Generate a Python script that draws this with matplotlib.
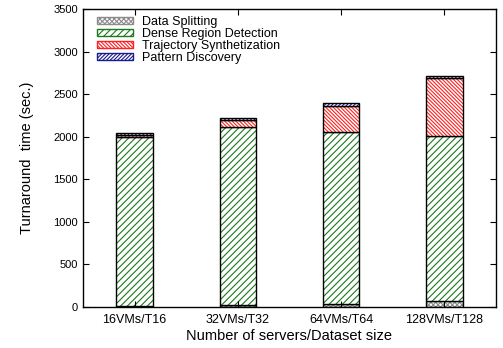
import numpy as np
import matplotlib
matplotlib.use("Agg")
from matplotlib import pyplot as plt
from matplotlib.patches import Patch

plt.rcParams['font.family'] = ['Liberation Sans', 'DejaVu Sans']
plt.rcParams['hatch.linewidth'] = 0.8

configs = ['16VMs/T16', '32VMs/T32', '64VMs/T64', '128VMs/T128']
splitting = [10, 25, 40, 75]
dense = [1985, 2085, 2010, 1930]
trajectory = [25, 85, 310, 690]
pattern = [25, 30, 40, 20]

stages = ['Data Splitting', 'Dense Region Detection',
          'Trajectory Synthetization', 'Pattern Discovery']
series = [splitting, dense, trajectory, pattern]
colors = ['#8c8c8c', '#1a7a1a', '#ff2020', '#1a1a8c']
hatches = ['x' * 7, '/' * 5, '\\' * 9, '/' * 9]

fig = plt.figure(figsize=(5.03, 3.48), dpi=100)
ax = fig.add_axes([0.165, 0.118, 0.821, 0.856])

x = np.arange(len(configs))
w = 0.355
bottom = np.zeros(len(configs))
for vals, c, h in zip(series, colors, hatches):
    vals = np.array(vals, dtype=float)
    ax.bar(x, vals, w, bottom=bottom, color='white', edgecolor=c,
           hatch=h, linewidth=0)
    ax.bar(x, vals, w, bottom=bottom, fill=False, edgecolor='black',
           linewidth=1.0)
    bottom += vals

ax.set_xlim(-0.5, 3.5)
ax.set_ylim(0, 3500)
ax.set_yticks(range(0, 3501, 500))
ax.set_xticks(x)
ax.set_xticklabels(configs, fontsize=9)
ax.tick_params(direction='in', top=True, right=True, labelsize=8,
               length=4, width=0.8)
ax.tick_params(axis='x', labelsize=9, pad=5)
for s in ax.spines.values():
    s.set_linewidth(1.0)

ax.set_xlabel('Number of servers/Dataset size', fontsize=10.5, labelpad=2)
ax.set_ylabel('Turnaround  time (sec.)', fontsize=10.5, labelpad=14)

handles = [Patch(facecolor='white', edgecolor=c, hatch=h, linewidth=1.0)
           for c, h in zip(colors, hatches)]
ax.legend(handles, stages, loc='upper left', bbox_to_anchor=(0.034, 0.977),
          frameon=False, fontsize=9, borderpad=0, borderaxespad=0,
          labelspacing=0.0, handlelength=2.9, handleheight=0.55,
          handletextpad=0.7)

fig.savefig('out.png', dpi=100)
